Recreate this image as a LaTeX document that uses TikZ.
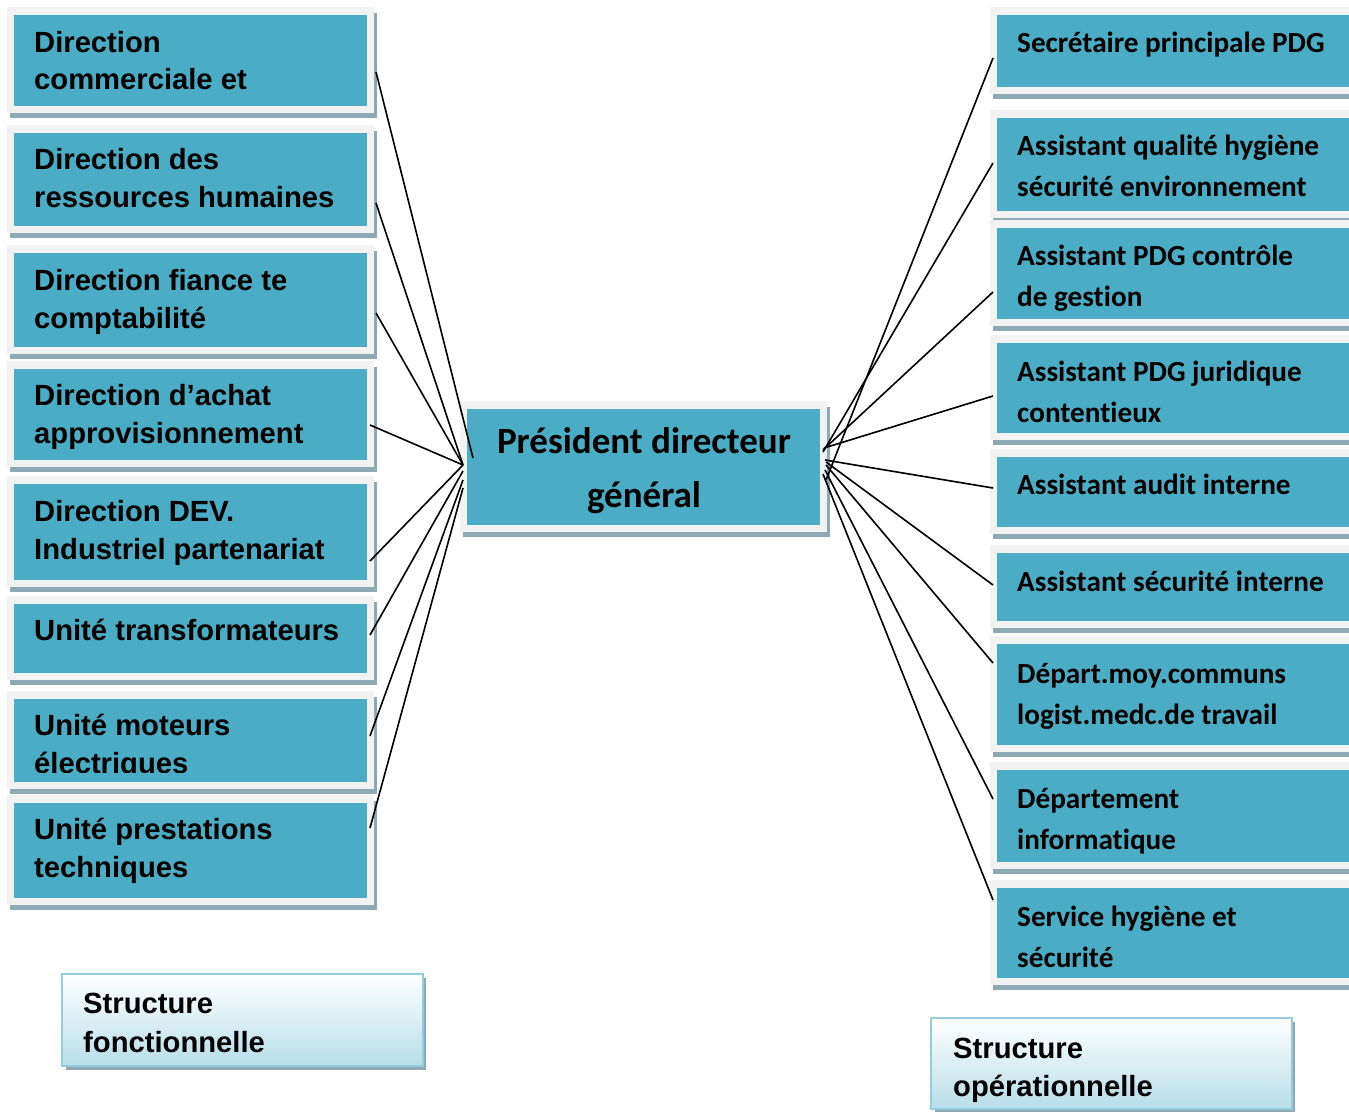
\documentclass[tikz,border=0pt]{standalone}
\usepackage{fontspec}
\setmainfont{Liberation Sans}
\newfontfamily\calfont{Carlito}[Ligatures=NoCommon]
\usetikzlibrary{fit}
\definecolor{boxblue}{HTML}{4BACC6}
\definecolor{framegray}{HTML}{F2F2F2}
\definecolor{shadowc}{HTML}{8FA9B4}
\definecolor{legfill}{HTML}{B7DEE8}
\definecolor{legline}{HTML}{93CDDD}
\tikzset{
  bluebox/.style={fill=boxblue, inner sep=0pt, draw=none},
  legbox/.style={inner sep=0pt, draw=legline, line width=1.5pt, top color=white, bottom color=legfill},
  ltxt/.style={anchor=base west, inner sep=0pt, font=\fontsize{29.2}{38}\selectfont\bfseries},
  rtxt/.style={anchor=base west, inner sep=0pt, font=\calfont\fontsize{29.2}{41}\selectfont\bfseries},
  ctxt/.style={anchor=base, inner sep=0pt, font=\calfont\fontsize{37}{52}\selectfont\bfseries},
  conn/.style={draw=black, line width=1.6pt},
}
\newcommand\orgbox[5]{%
  \fill[shadowc] (#2-4,#3-2) rectangle (#4+10,#5+12);
  \fill[framegray] (#2-7,#3-8) rectangle (#4+7,#5+7);
  \node[bluebox, fit={(#2,#3) (#4,#5)}] (#1) {};
}
\begin{document}
\begin{tikzpicture}[x=1pt, y=-1pt]
\useasboundingbox (0,0) rectangle (1349,1113);
\clip (0,0) rectangle (1349,1113);
\fill[white] (0,0) rectangle (1349,1113);

% left boxes
\orgbox{L1}{14}{15}{367}{106}
\orgbox{L2}{14}{133}{367}{226}
\orgbox{L3}{14}{253}{367}{347}
\orgbox{L4}{14}{369}{367}{460}
\orgbox{L5}{14}{484}{367}{580}
\orgbox{L6}{14}{604}{367}{673}
\orgbox{L7}{14}{699}{367}{782}
\orgbox{L8}{14}{803}{367}{898}

% right boxes
\orgbox{R1}{997}{15}{1360}{87}
\orgbox{R2}{997}{118}{1360}{211}
\orgbox{R3}{997}{228}{1360}{319}
\orgbox{R4}{997}{343}{1360}{433}
\orgbox{R5}{997}{457}{1360}{527}
\orgbox{R6}{997}{553}{1360}{621}
\orgbox{R7}{997}{644}{1360}{745}
\orgbox{R8}{997}{770}{1360}{862}
\orgbox{R9}{997}{888}{1360}{978}

% center box
\orgbox{PDG}{467}{409}{820}{525}

% left texts
\node[ltxt] (L1a) at (34,53) {Direction};
\node[ltxt] (L1b) at (34,90) {commerciale et};
\node[ltxt] (L2a) at (34,169) {Direction des};
\node[ltxt] (L2b) at (34,207) {ressources humaines};
\node[ltxt] (L3a) at (34,290) {Direction fiance te};
\node[ltxt] (L3b) at (34,328) {comptabilité};
\node[ltxt] (L4a) at (34,405) {Direction d’achat};
\node[ltxt] (L4b) at (34,443) {approvisionnement};
\node[ltxt] (L5a) at (34,521) {Direction DEV.};
\node[ltxt] (L5b) at (34,559) {Industriel partenariat};
\node[ltxt] (L6a) at (34,640) {Unité transformateurs};
\node[ltxt] (L7a) at (34,735) {Unité moteurs};
\begin{scope}
\clip (14,699) rectangle (367,772);
\node[ltxt] (L7b) at (34,773) {électriques};
\end{scope}
\node[ltxt] (L8a) at (34,839) {Unité prestations};
\node[ltxt] (L8b) at (34,877) {techniques};

% right texts
\node[rtxt] (R1a) at (1017,53) {Secrétaire principale PDG};
\node[rtxt] (R2a) at (1017,155) {Assistant qualité hygiène};
\node[rtxt] (R2b) at (1017,196) {sécurité environnement};
\node[rtxt] (R3a) at (1017,265) {Assistant PDG contrôle};
\node[rtxt] (R3b) at (1017,306) {de gestion};
\node[rtxt] (R4a) at (1017,381) {Assistant PDG juridique};
\node[rtxt] (R4b) at (1017,422) {contentieux};
\node[rtxt] (R5a) at (1017,494) {Assistant audit interne};
\node[rtxt] (R6a) at (1017,591) {Assistant sécurité interne};
\node[rtxt] (R7a) at (1017,683) {Départ.moy.communs};
\node[rtxt] (R7b) at (1017,724) {logist.medc.de travail};
\node[rtxt] (R8a) at (1017,808) {Département};
\node[rtxt] (R8b) at (1017,849) {informatique};
\node[rtxt] (R9a) at (1017,926) {Service hygiène et};
\node[rtxt] (R9b) at (1017,967) {sécurité};

% center text
\node[ctxt] (PDGa) at (644,453) {Président directeur};
\node[ctxt] (PDGb) at (644,507) {général};

% legends
\fill[shadowc] (66,978) rectangle (426,1070);
\node[legbox, fit={(62,974) (423,1066)}] (legF) {};
\node[ltxt] (legFa) at (83,1013) {Structure};
\node[ltxt] (legFb) at (83,1052) {fonctionnelle};
\fill[shadowc] (935,1022) rectangle (1295,1112);
\node[legbox, fit={(931,1018) (1292,1109)}] (legO) {};
\node[ltxt] (legOa) at (953,1058) {Structure};
\node[ltxt] (legOb) at (953,1096) {opérationnelle};

% connector ends
\coordinate (l1) at (376,72);
\coordinate (l2) at (376,203);
\coordinate (l3) at (376,313);
\coordinate (l4) at (370,425);
\coordinate (l5) at (370,561);
\coordinate (l6) at (370,635);
\coordinate (l7) at (370,736);
\coordinate (l8) at (370,828);
\coordinate (h1) at (473,458);
\coordinate (hL) at (463,465);
\coordinate (h6) at (463,471);
\coordinate (h7) at (463,480);
\coordinate (h8) at (463,488);

\coordinate (r1) at (993,58);
\coordinate (r2) at (993,163);
\coordinate (r3) at (993,292);
\coordinate (r4) at (993,396);
\coordinate (r5) at (993,488);
\coordinate (r6) at (993,585);
\coordinate (r7) at (993,663);
\coordinate (r8) at (993,799);
\coordinate (r9) at (993,900);
\coordinate (k1) at (826,480);
\coordinate (k2) at (823,452);
\coordinate (k3) at (823,450);
\coordinate (k4) at (824,448);
\coordinate (k5) at (825,460);
\coordinate (k6) at (826,462);
\coordinate (k7) at (826,465);
\coordinate (k8) at (825,470);
\coordinate (k9) at (823,474);

\draw[conn] (l1) -- (h1);
\draw[conn] (l2) -- (hL);
\draw[conn] (l3) -- (hL);
\draw[conn] (l4) -- (hL);
\draw[conn] (l5) -- (hL);
\draw[conn] (l6) -- (h6);
\draw[conn] (l7) -- (h7);
\draw[conn] (l8) -- (h8);
\draw[conn] (r1) -- (k1);
\draw[conn] (r2) -- (k2);
\draw[conn] (r3) -- (k3);
\draw[conn] (r4) -- (k4);
\draw[conn] (r5) -- (k5);
\draw[conn] (r6) -- (k6);
\draw[conn] (r7) -- (k7);
\draw[conn] (r8) -- (k8);
\draw[conn] (r9) -- (k9);
\end{tikzpicture}
\end{document}
